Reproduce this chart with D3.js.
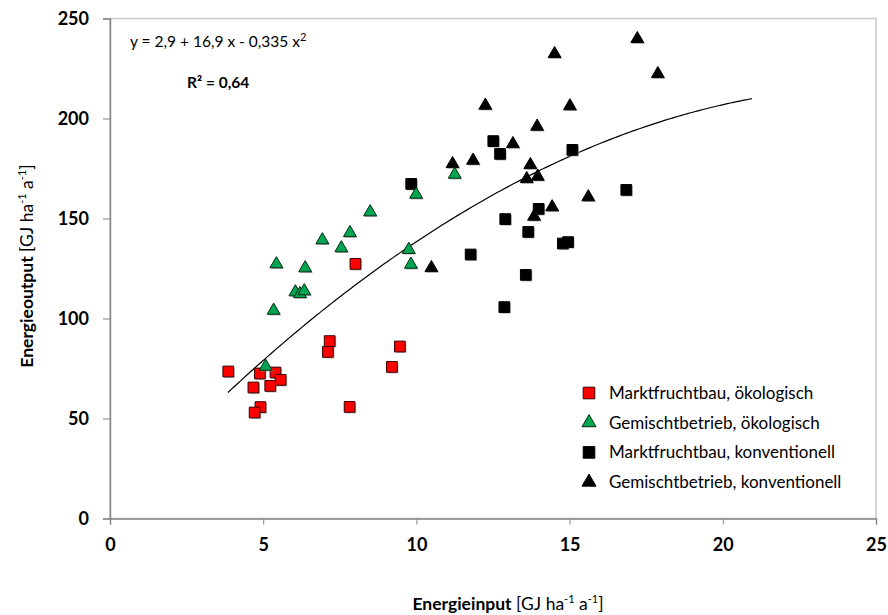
<!DOCTYPE html>
<html>
<head>
<meta charset="utf-8">
<script src="https://cdn.jsdelivr.net/npm/d3@7"></script>
<style>
  body { margin: 0; background: #fff; }
  svg { font-family: Lato, 'Open Sans', sans-serif; }
</style>
</head>
<body>
<div id="chart"></div>
<script>
'use strict';

// Marktfruchtbau, ökologisch
var mfOeko = [
  [3.86, 73.5], [4.89, 72.5], [5.40, 73], [5.57, 69.3], [4.68, 65.5], [5.23, 66.3],
  [4.91, 55.7], [4.72, 53], [7.17, 88.7], [7.11, 83.3], [7.82, 55.8], [8.01, 127.3],
  [9.46, 86], [9.20, 75.8]
];
// Gemischtbetrieb, ökologisch
var gbOeko = [
  [8.49, 153.2], [7.83, 142.8], [6.93, 139.2], [7.55, 135.2], [5.43, 127.2], [6.37, 125.2],
  [9.75, 134.4], [9.82, 127], [6.05, 113.2], [6.20, 112.3], [6.34, 113.7], [5.34, 104],
  [5.08, 76], [11.25, 172], [9.99, 162]
];
// Marktfruchtbau, konventionell
var mfKonv = [
  [12.51, 188.7], [12.73, 182.3], [9.83, 167.3], [13.99, 154.8], [12.90, 149.7], [13.65, 143.3],
  [11.77, 132], [13.57, 121.8], [12.87, 105.7], [15.09, 184.3], [16.85, 164.3], [14.78, 137.5],
  [14.95, 138.2]
];
// Gemischtbetrieb, konventionell
var gbKonv = [
  [17.21, 239.8], [17.88, 222.3], [15.01, 206.2], [15.61, 160.7], [14.51, 232.3], [12.25, 206.5],
  [13.94, 196], [13.15, 187.3], [11.18, 177.3], [11.85, 179], [13.72, 176.8], [13.60, 169.8],
  [13.96, 171], [14.43, 155.7], [13.84, 151], [10.49, 125.3]
];

var seriesNames = [
  'Marktfruchtbau, ökologisch',
  'Gemischtbetrieb, ökologisch',
  'Marktfruchtbau, konventionell',
  'Gemischtbetrieb, konventionell'
];

var xTicks = [0, 5, 10, 15, 20, 25];
var yTicks = [0, 50, 100, 150, 200, 250];

// trend: y = 2,9 + 16,9 x - 0,335 x^2, drawn from x = 3,85 to 21
var trendCoef = [2.9, 16.9, -0.335];
var trendRange = [3.85, 21];

var width = 888, height = 615;
var area = { left: 110, top: 18.5, right: 876, bottom: 518.5 };

var svg = d3.select('#chart').append('svg')
  .attr('width', width)
  .attr('height', height);

var x = d3.scaleLinear().domain([0, 25]).range([area.left, area.right]);
var y = d3.scaleLinear().domain([0, 250]).range([area.bottom, area.top]);

// plot area border
svg.append('rect')
  .attr('x', area.left).attr('y', area.top)
  .attr('width', area.right - area.left).attr('height', area.bottom - area.top)
  .attr('fill', 'none').attr('stroke', '#c8c8c8').attr('stroke-width', 1.5);

// axes
var xAxis = svg.append('g')
  .attr('transform', 'translate(0,' + area.bottom + ')')
  .call(d3.axisBottom(x).tickValues(xTicks).tickSize(6).tickPadding(14));
var yAxis = svg.append('g')
  .attr('transform', 'translate(' + area.left + ',0)')
  .call(d3.axisLeft(y).tickValues(yTicks).tickSize(7).tickPadding(14));

[xAxis, yAxis].forEach(function(a) {
  a.select('.domain').attr('stroke', '#868686').attr('stroke-width', 1.5);
  a.selectAll('.tick line').attr('stroke', '#868686').attr('stroke-width', 1);
  a.selectAll('.tick text')
    .attr('fill', '#000')
    .style('font-family', 'Lato, sans-serif')
    .style('font-size', '18px')
    .style('font-weight', 'bold');
});
yAxis.selectAll('.tick text').attr('dy', '0.35em');

// trend line
var trend = d3.range(trendRange[0], trendRange[1] + 0.001, 0.1).map(function(v) {
  return [v, trendCoef[0] + trendCoef[1] * v + trendCoef[2] * v * v];
});
svg.append('path')
  .attr('d', d3.line().x(function(d) { return x(d[0]); }).y(function(d) { return y(d[1]); })(trend))
  .attr('fill', 'none')
  .attr('stroke', '#000')
  .attr('stroke-width', 1.2);

// markers
var sq = d3.symbol().type(d3.symbolSquare).size(115);
var tri = d3.symbol().type(d3.symbolTriangle).size(72);
var sqBig = d3.symbol().type(d3.symbolSquare).size(135);
var triBig = d3.symbol().type(d3.symbolTriangle).size(85);

var styles = [
  { data: mfOeko, sym: sq,  leg: sqBig,  fill: '#ff0000', stroke: '#3a0000' },
  { data: gbOeko, sym: tri, leg: triBig, fill: '#00a651', stroke: '#002a10' },
  { data: mfKonv, sym: sq,  leg: sqBig,  fill: '#000000', stroke: '#000000' },
  { data: gbKonv, sym: tri, leg: triBig, fill: '#000000', stroke: '#000000' }
];

// order: black series behind coloured ones
[2, 3, 0, 1].forEach(function(i) {
  var s = styles[i];
  var g = svg.append('g');
  g.selectAll('path.shadow')
    .data(s.data)
    .enter().append('path')
      .attr('class', 'shadow')
      .attr('d', s.sym)
      .attr('transform', function(d) { return 'translate(' + (x(d[0]) + 1.2) + ',' + (y(d[1]) + 1.2) + ')'; })
      .attr('fill', '#9a9a9a')
      .attr('opacity', 0.7);
  g.selectAll('path.mark')
    .data(s.data)
    .enter().append('path')
      .attr('class', 'mark')
      .attr('d', s.sym)
      .attr('transform', function(d) { return 'translate(' + x(d[0]) + ',' + y(d[1]) + ')'; })
      .attr('fill', s.fill)
      .attr('stroke', s.stroke)
      .attr('stroke-width', 1);
});

// legend
var legend = svg.append('g').attr('transform', 'translate(589,393)');
seriesNames.forEach(function(name, i) {
  var s = styles[i];
  var row = legend.append('g').attr('transform', 'translate(0,' + (i * 29.7) + ')');
  row.append('path')
    .attr('d', s.leg)
    .attr('fill', s.fill)
    .attr('stroke', s.stroke)
    .attr('stroke-width', 1);
  row.append('text')
    .attr('x', 20)
    .attr('dy', '0.35em')
    .style('font-size', '17px')
    .text(name);
});

// equation + R²
var eq = svg.append('text')
  .attr('x', 130).attr('y', 47)
  .style('font-size', '15.5px');
eq.append('tspan').text('y = 2,9 + 16,9 x - 0,335 x');
eq.append('tspan').attr('dy', -6).style('font-size', '11px').text('2');

svg.append('text')
  .attr('x', 187).attr('y', 88)
  .style('font-size', '15.5px')
  .style('font-weight', 'bold')
  .text('R² = 0,64');

// axis titles
function unitLabel(sel, bold) {
  sel.append('tspan').style('font-weight', 'bold').text(bold);
  sel.append('tspan').text('  [GJ ha');
  sel.append('tspan').attr('dy', -7).style('font-size', '11px').text('-1');
  sel.append('tspan').attr('dy', 7).text(' a');
  sel.append('tspan').attr('dy', -7).style('font-size', '11px').text('-1');
  sel.append('tspan').attr('dy', 7).text(']');
}

var xt = svg.append('text')
  .attr('x', 508).attr('y', 610)
  .attr('text-anchor', 'middle')
  .style('font-size', '17.5px');
unitLabel(xt, 'Energieinput');

var yt = svg.append('text')
  .attr('transform', 'translate(33,266) rotate(-90)')
  .attr('text-anchor', 'middle')
  .style('font-size', '17.5px');
unitLabel(yt, 'Energieoutput');
</script>
</body>
</html>
